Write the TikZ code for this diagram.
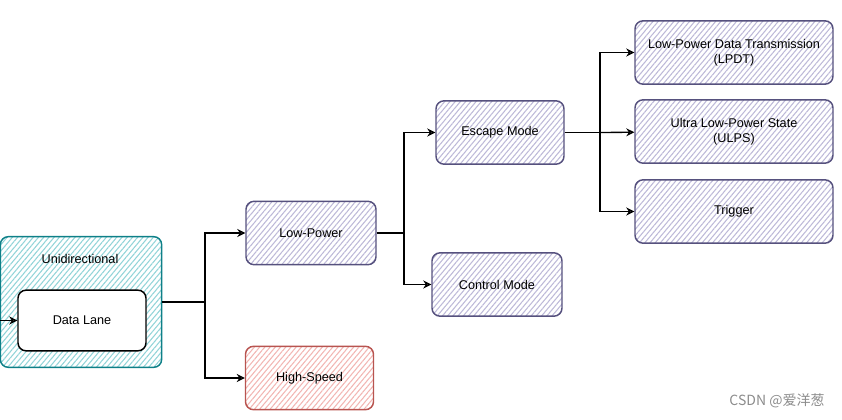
\documentclass[tikz,border=0pt]{standalone}
\usepackage{fontspec}
\setmainfont{Liberation Sans}
\newfontfamily\cjkfont{Noto Sans CJK SC}
\usetikzlibrary{arrows.meta, patterns.meta}

\definecolor{tealline}{HTML}{0E8088}
\definecolor{tealfill}{HTML}{92D4D8}
\definecolor{purpline}{HTML}{56517E}
\definecolor{purpfill}{HTML}{BDB9D8}
\definecolor{redline}{HTML}{B85450}
\definecolor{redfill}{HTML}{F2B6B3}

\begin{document}
\begin{tikzpicture}[x=0.75pt, y=-0.75pt, >={Stealth[open, length=6pt, width=6pt]},
  font=\fontsize{9.5}{11.5}\selectfont,
  box/.style={rounded corners=6pt, line width=1.1pt, align=center,
    minimum width=97.5pt, minimum height=47.5pt},
  purpbox/.style={box, draw=purpline,
    pattern={Lines[angle=50, distance=3pt, line width=0.8pt]}, pattern color=purpfill},
  redbox/.style={box, draw=redline,
    pattern={Lines[angle=50, distance=3pt, line width=0.8pt]}, pattern color=redfill},
  wide/.style={minimum width=148.5pt},
  conn/.style={line width=1pt}]
  \useasboundingbox (0,0) rectangle (842,420);

  % Bloc de gauche
  \node[box, draw=tealline, minimum width=121pt, minimum height=98pt,
    pattern={Lines[angle=50, distance=3pt, line width=0.8pt]}, pattern color=tealfill] (uni) at (81,302) {};
  \node (unitxt) at (80,259) {Unidirectional};
  \node[box, draw=black, fill=white, minimum width=96pt, minimum height=45.5pt] (lane) at (82,320.5) {Data Lane};

  % Modes
  \node[purpbox] (lp) at (311,233) {Low-Power};
  \node[redbox, minimum width=96pt] (hs) at (309.5,378) {High-Speed};
  \node[purpbox, minimum width=96pt] (esc) at (500,132.5) {Escape Mode};
  \node[purpbox] (ctrl) at (497,284.5) {Control Mode};

  % Sous-modes de Escape Mode
  \node[purpbox, wide] (lpdt) at (734,52.5) {Low-Power Data Transmission\\(LPDT)};
  \node[purpbox, wide] (ulps) at (734,131.5) {Ultra Low-Power State\\(ULPS)};
  \node[purpbox, wide] (trig) at (734,211.5) {Trigger};

  % Liaisons
  \coordinate (in) at (0,320.5);
  \draw[conn, ->] (in) -- (lane.west);

  \coordinate (j1) at (205,302);
  \draw[conn] (uni.east) -- (j1);
  \draw[conn, ->] (j1) |- (lp);
  \draw[conn, ->] (j1) |- (hs);

  \coordinate (j2) at (404,233);
  \draw[conn] (lp.east) -- (j2);
  \draw[conn, ->] (j2) |- (esc);
  \draw[conn, ->] (j2) |- (ctrl);

  \coordinate (j3) at (600,132.5);
  \draw[conn] (esc.east) -- (j3);
  \draw[conn, ->] (j3) |- (lpdt);
  \draw[conn, ->] (j3) -- (ulps);
  \draw[conn, ->] (j3) |- (trig);

  % Filigrane
  \node[text=black!45, font=\cjkfont\fontsize{10.5}{12}\selectfont] (mark) at (777,401) {CSDN @爱洋葱};
\end{tikzpicture}
\end{document}
